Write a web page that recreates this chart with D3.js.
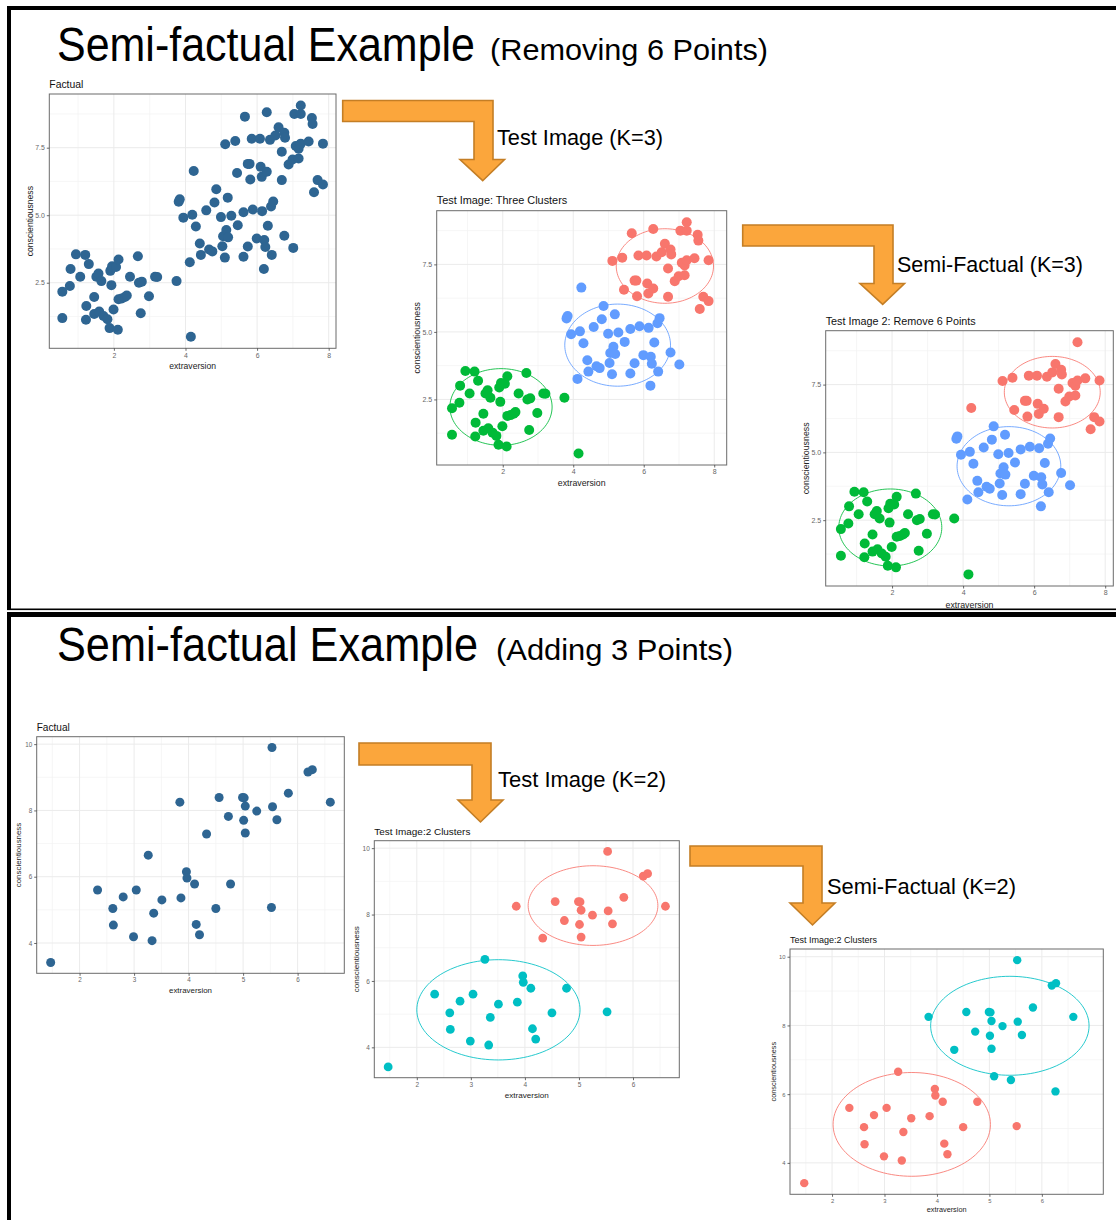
<!DOCTYPE html>
<html><head><meta charset="utf-8">
<script src="https://cdn.jsdelivr.net/npm/d3@7"></script>
<style>
body{margin:0;background:#fff}
svg{display:block}
text{font-family:"Liberation Sans",Arial,Helvetica,sans-serif}
</style>
</head><body>
<svg id="c" width="1116" height="1220"></svg>
<script>
// ---------- DATA: "Removing 6 Points" example (K=3) ----------
const greenX = [0.56,0.56,0.77,0.79,0.94,1.06,1.20,1.23,1.22,1.30,1.45,1.45,1.51,1.57,1.59,1.65,1.71,1.82,1.88,1.90,1.93,1.95,1.99,2.06,2.11,2.13,2.13,2.22,2.31,2.36,2.45,2.67,2.70,2.75,2.78,2.98,3.15,3.21,3.75,4.15];
const greenY = [2.17,1.19,2.38,3.01,3.55,2.72,3.53,1.64,1.13,3.19,1.97,1.34,2.72,2.84,1.43,2.56,1.27,1.15,0.82,2.94,2.41,3.11,1.51,3.08,0.76,3.36,1.89,1.92,1.97,2.03,2.72,3.48,2.50,1.37,2.54,2.00,2.72,2.71,2.56,0.50];
const blueX = [3.81,3.84,3.94,4.12,4.19,4.29,4.40,4.43,4.58,4.66,4.75,4.81,4.86,4.99,5.03,5.05,5.10,5.14,5.19,5.18,5.28,5.46,5.62,5.62,5.74,5.88,5.99,6.14,6.19,6.20,6.23,6.30,6.41,6.39,6.45,6.76,7.01];
const blueY = [5.50,5.59,4.91,3.26,5.02,4.58,3.95,3.53,5.18,3.73,3.66,5.47,5.96,4.93,3.85,4.22,3.43,4.45,4.18,5.65,4.98,4.63,5.11,3.46,3.84,5.21,4.14,5.15,3.01,4.08,3.82,4.61,3.53,5.32,5.51,4.24,3.79];
// point that is blue in the test image and red in the semi-factual
const switchX = [4.23];
const switchY = [6.64];
const redKeptX = [5.11,5.39,5.44,5.74,5.79,5.81,5.85,6.08,6.10,6.13,6.27,6.36,6.51,6.60,6.69,6.69,6.76,6.78,6.88,6.99,7.08,7.16,7.16,7.22,7.22,7.44,7.59,7.69,7.84,7.84];
const redKeptY = [7.63,7.75,6.56,6.90,6.90,6.32,7.83,7.83,6.79,6.42,6.61,7.79,7.95,8.26,7.35,6.30,8.05,7.87,6.88,7.06,7.56,7.10,7.46,9.06,7.65,7.73,5.85,6.30,7.65,6.14];
// the 6 removed points
const redRemovedX = [5.66,6.27,7.04,7.22,7.53,7.55];
const redRemovedY = [8.65,8.81,8.75,8.75,8.60,8.38];

// ---------- DATA: "Adding 3 Points" example (K=2) ----------
const lowX = [1.47,2.33,2.61,2.62,2.80,2.99,3.04,3.26,3.33,3.36,3.51,3.86,3.96,3.97,4.11,4.14,4.20,4.50,4.77,5.52];
const lowY = [3.41,5.60,5.04,4.54,5.39,4.19,5.60,6.65,4.07,4.90,5.30,5.36,6.15,5.96,5.78,4.56,4.25,5.04,5.78,5.07];
const highX = [3.84,4.33,4.56,4.73,4.99,5.02,5.04,5.01,5.04,5.25,5.53,5.54,5.62,5.83,6.19,6.27,6.60];
const highY = [8.25,7.29,8.39,7.82,8.39,8.38,8.13,7.70,7.32,7.98,9.90,8.11,7.72,8.52,9.16,9.23,8.25];
const addedX = [5.09,5.41,6.26];
const addedY = [6.52,6.41,6.08];

// ---------- Ellipses (centre x, centre y, radius x, radius y) ----------
const ellTest3 = [[1.95,2.22,1.45,1.42],[5.26,4.51,1.50,1.52],[6.60,7.44,1.38,1.38]];
const ellSemi3 = [[1.95,2.23,1.45,1.42],[5.29,4.49,1.46,1.46],[6.51,7.22,1.35,1.32]];
const ellTest2 = [[3.51,5.13,1.51,1.51],[5.26,8.27,1.20,1.20]];
const ellSemi2 = [[3.52,5.12,1.50,1.51],[5.39,7.99,1.51,1.44]];

// ---------- Ticks ----------
const topXTicks = [2,4,6,8];
const topYTicks = [2.5,5.0,7.5];
const botXTicks = [2,3,4,5,6];
const botYTicks = [4,6,8,10];

// ---------- Styles ----------
const C_FACT = "#2E6592", C_RED = "#F8766D", C_GREEN = "#00BA38", C_BLUE = "#619CFF", C_CYAN = "#00BFC4";

const svg = d3.select("#c");
svg.append("rect").attr("width",1116).attr("height",1220).attr("fill","#fff");

// frame lines
svg.append("rect").attr("x",7).attr("y",6).attr("width",1109).attr("height",4).attr("fill","#000");
svg.append("rect").attr("x",7).attr("y",6).attr("width",4).attr("height",604).attr("fill","#000");
svg.append("rect").attr("x",7).attr("y",608.5).attr("width",1109).attr("height",1.6).attr("fill","#000");
svg.append("rect").attr("x",7).attr("y",612).attr("width",1109).attr("height",5).attr("fill","#000");
svg.append("rect").attr("x",7).attr("y",612).attr("width",4).attr("height",608).attr("fill","#000");

// slide titles
function txt(s,x,y,size,len){
  const t = svg.append("text").attr("x",x).attr("y",y).attr("font-size",size).attr("fill","#000").text(s);
  if(len){ t.attr("textLength",len).attr("lengthAdjust","spacingAndGlyphs"); }
  return t;
}
function bigTitle(s,x,y,len){
  // condensed, tall heading: natural width at 43px is close to the target width, then stretched vertically
  svg.append("text").attr("transform",`translate(${x},${y}) scale(1,1.12)`).attr("font-size",43)
    .attr("fill","#000").attr("textLength",len).attr("lengthAdjust","spacingAndGlyphs").text(s);
}
bigTitle("Semi-factual Example",57,61,418);
txt("(Removing 6 Points)",490,60,30,278);
bigTitle("Semi-factual Example",57,661,421);
txt("(Adding 3 Points)",496,660,30,237);

// arrows
function arrow(a){
  const p = [[a.l,a.t],[a.r,a.t],[a.r,a.sb],[a.hr,a.sb],[a.ax,a.ay],[a.hl,a.sb],[a.vl,a.sb],[a.vl,a.bb],[a.l,a.bb]];
  svg.append("path").attr("d","M"+p.map(q=>q.join(",")).join("L")+"Z")
    .attr("fill","#FBA63C").attr("stroke","#C47E25").attr("stroke-width",1.6).attr("stroke-linejoin","miter");
}
arrow({l:342.7,t:100.5,r:493,bb:121.5,vl:474,sb:159.5,hl:460,hr:504.5,ax:482.7,ay:180.7});
arrow({l:742.7,t:225,r:893,bb:246,vl:874,sb:283.5,hl:860,hr:904.5,ax:882.7,ay:304.3});
arrow({l:359,t:743,r:491,bb:765,vl:472,sb:800,hl:458,hr:503,ax:480.5,ay:822});
arrow({l:690,t:846,r:822,bb:866,vl:803,sb:903,hl:790,hr:835,ax:812.5,ay:925});

txt("Test Image (K=3)",497,145,21.4,166);
txt("Semi-Factual (K=3)",897,272,21.4,186);
txt("Test Image (K=2)",498,787,21.4,168);
txt("Semi-Factual (K=2)",827,894,21.4,189);

// ---------- panel drawing ----------
function minorOf(ticks, dom){
  const step = ticks[1]-ticks[0];
  const out = [];
  const ext = [ticks[0]-step, ...ticks, ticks[ticks.length-1]+step];
  for(let i=0;i<ext.length-1;i++){ const m=(ext[i]+ext[i+1])/2; if(m>dom[0] && m<dom[1]) out.push(m); }
  return out;
}
function panel(cfg){
  const {L,T,R,B,title,titleY,titleSize,base,groups,ellipses,xt,yt,yfmt,r} = cfg;
  const xs=[], ys=[];
  groups.forEach(g=>{ xs.push(...g.x); ys.push(...g.y); });
  (ellipses||[]).forEach(e=>{ xs.push(e.p[0]-e.p[2], e.p[0]+e.p[2]); ys.push(e.p[1]-e.p[3], e.p[1]+e.p[3]); });
  const [x0,x1] = d3.extent(xs), [y0,y1] = d3.extent(ys);
  const ex=(x1-x0)*0.05, ey=(y1-y0)*0.05;
  const x = d3.scaleLinear().domain([x0-ex,x1+ex]).range([L,R]);
  const y = d3.scaleLinear().domain([y0-ey,y1+ey]).range([B,T]);
  const g = svg.append("g");
  // grid
  const xm = minorOf(xt,x.domain()), ym = minorOf(yt,y.domain());
  g.selectAll(".xm").data(xm).join("line").attr("x1",d=>x(d)).attr("x2",d=>x(d)).attr("y1",T).attr("y2",B).attr("stroke","#F2F2F2").attr("stroke-width",0.7);
  g.selectAll(".ym").data(ym).join("line").attr("y1",d=>y(d)).attr("y2",d=>y(d)).attr("x1",L).attr("x2",R).attr("stroke","#F2F2F2").attr("stroke-width",0.7);
  g.selectAll(".xM").data(xt).join("line").attr("x1",d=>x(d)).attr("x2",d=>x(d)).attr("y1",T).attr("y2",B).attr("stroke","#EBEBEB").attr("stroke-width",1);
  g.selectAll(".yM").data(yt).join("line").attr("y1",d=>y(d)).attr("y2",d=>y(d)).attr("x1",L).attr("x2",R).attr("stroke","#EBEBEB").attr("stroke-width",1);
  // points
  groups.forEach(gr=>{
    g.append("g").selectAll("circle").data(d3.range(gr.x.length)).join("circle")
      .attr("cx",i=>x(gr.x[i])).attr("cy",i=>y(gr.y[i])).attr("r",r).attr("fill",gr.c);
  });
  // ellipses
  const line = d3.line();
  (ellipses||[]).forEach(e=>{
    const pts = d3.range(0,361,3).map(a=>{const t=a*Math.PI/180; return [x(e.p[0]+e.p[2]*Math.cos(t)), y(e.p[1]+e.p[3]*Math.sin(t))];});
    g.append("path").attr("d",line(pts)).attr("fill","none").attr("stroke",e.c).attr("stroke-width",1).attr("opacity",0.85);
  });
  // border
  g.append("rect").attr("x",L).attr("y",T).attr("width",R-L).attr("height",B-T).attr("fill","none").attr("stroke","#6b6b6b").attr("stroke-width",1);
  // axes
  const tickFs = base*0.8;
  const ax = g.append("g").attr("transform",`translate(0,${B})`)
    .call(d3.axisBottom(x).tickValues(xt).tickSize(2.5).tickSizeOuter(0).tickPadding(2).tickFormat(d3.format("d")));
  const ay = g.append("g").attr("transform",`translate(${L},0)`)
    .call(d3.axisLeft(y).tickValues(yt).tickSize(2.5).tickSizeOuter(0).tickPadding(2).tickFormat(yfmt));
  [ax,ay].forEach(a=>{
    a.select(".domain").remove();
    a.selectAll(".tick line").attr("stroke","#444").attr("stroke-width",0.8);
    a.selectAll(".tick text").attr("fill","#666").attr("font-size",tickFs).attr("font-family","Liberation Sans, Arial, sans-serif");
  });
  // titles
  g.append("text").attr("x",(L+R)/2).attr("y",B+base*2.45).attr("text-anchor","middle").attr("font-size",base).attr("fill","#222").text("extraversion");
  g.append("text").attr("transform",`translate(${L-base*2.3},${(T+B)/2}) rotate(-90)`).attr("dy","0.35em").attr("text-anchor","middle").attr("font-size",base).attr("fill","#222").text("conscientiousness");
  g.append("text").attr("x",L).attr("y",titleY).attr("font-size",titleSize).attr("fill","#111").text(title);
}

const f1 = d3.format(".1f"), fd = d3.format("d");

// Top: Factual
panel({L:49.3,T:94,R:336,B:348.3,title:"Factual",titleY:88,titleSize:10.4,base:8.6,r:5.0,
  groups:[{x:[...greenX,...blueX,...switchX,...redKeptX,...redRemovedX],y:[...greenY,...blueY,...switchY,...redKeptY,...redRemovedY],c:C_FACT}],
  ellipses:[],xt:topXTicks,yt:topYTicks,yfmt:f1});
// Top: Test Image three clusters
panel({L:436.7,T:210.7,R:726.7,B:465,title:"Test Image: Three Clusters",titleY:204,titleSize:10.9,base:8.75,r:5.0,
  groups:[{x:greenX,y:greenY,c:C_GREEN},{x:[...blueX,...switchX],y:[...blueY,...switchY],c:C_BLUE},{x:[...redKeptX,...redRemovedX],y:[...redKeptY,...redRemovedY],c:C_RED}],
  ellipses:[{p:ellTest3[0],c:C_GREEN},{p:ellTest3[1],c:C_BLUE},{p:ellTest3[2],c:C_RED}],xt:topXTicks,yt:topYTicks,yfmt:f1});
// Top: Semi-factual
panel({L:825.7,T:330.7,R:1113.3,B:586,title:"Test Image 2: Remove 6 Points",titleY:325,titleSize:10.8,base:8.8,r:5.0,
  groups:[{x:greenX,y:greenY,c:C_GREEN},{x:blueX,y:blueY,c:C_BLUE},{x:[...redKeptX,...switchX],y:[...redKeptY,...switchY],c:C_RED}],
  ellipses:[{p:ellSemi3[0],c:C_GREEN},{p:ellSemi3[1],c:C_BLUE},{p:ellSemi3[2],c:C_RED}],xt:topXTicks,yt:topYTicks,yfmt:f1});

// Bottom: Factual
panel({L:36.7,T:736.7,R:344.3,B:973.3,title:"Factual",titleY:731,titleSize:10.1,base:7.9,r:4.5,
  groups:[{x:[...lowX,...highX],y:[...lowY,...highY],c:C_FACT}],
  ellipses:[],xt:botXTicks,yt:botYTicks,yfmt:fd});
// Bottom: Test image 2 clusters
panel({L:374.3,T:840.7,R:679.3,B:1077.7,title:"Test Image:2 Clusters",titleY:835,titleSize:9.95,base:8.1,r:4.4,
  groups:[{x:lowX,y:lowY,c:C_CYAN},{x:highX,y:highY,c:C_RED}],
  ellipses:[{p:ellTest2[0],c:C_CYAN},{p:ellTest2[1],c:C_RED}],xt:botXTicks,yt:botYTicks,yfmt:fd});
// Bottom: Semi-factual
panel({L:790,T:949,R:1103.3,B:1194.3,title:"Test Image:2 Clusters",titleY:943,titleSize:9.0,base:7.3,r:4.2,
  groups:[{x:lowX,y:lowY,c:C_RED},{x:[...highX,...addedX],y:[...highY,...addedY],c:C_CYAN}],
  ellipses:[{p:ellSemi2[0],c:C_RED},{p:ellSemi2[1],c:C_CYAN}],xt:botXTicks,yt:botYTicks,yfmt:fd});
</script>
</body></html>
